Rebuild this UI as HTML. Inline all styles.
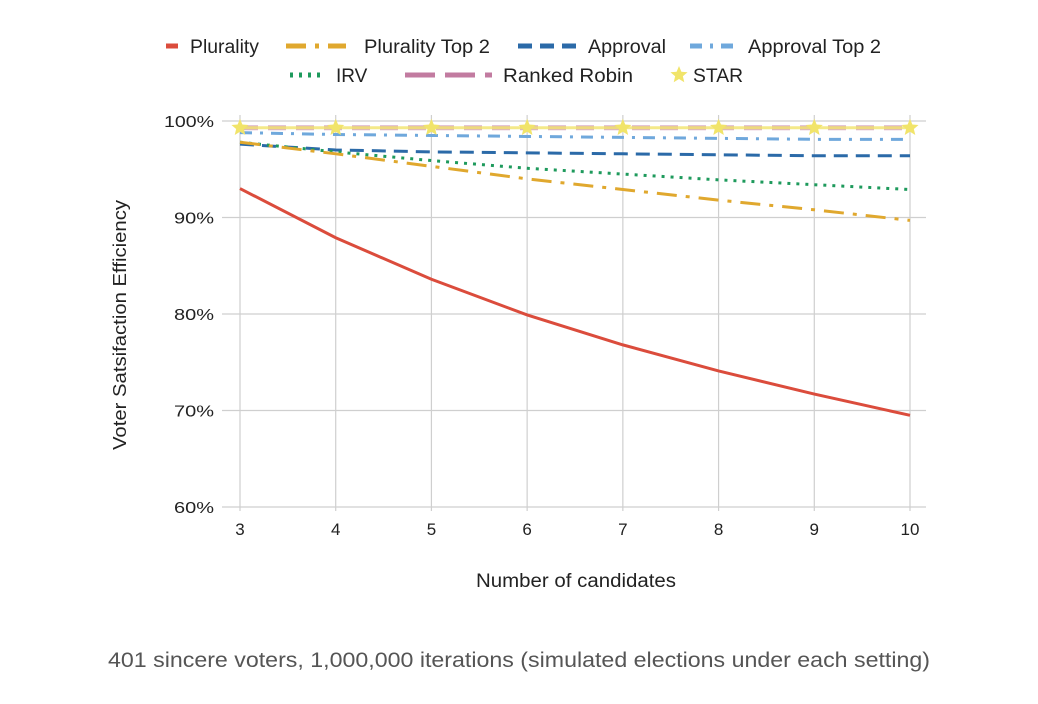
<!DOCTYPE html>
<html><head><meta charset="utf-8"><style>
body{margin:0;background:#fff;width:1038px;height:704px;overflow:hidden;font-family:"Liberation Sans",sans-serif}
svg{position:absolute;left:0;top:0}
</style></head><body>
<svg id="c" width="1038" height="704"></svg>
<script>
const categories=[3,4,5,6,7,8,9,10];
const yTicks=[60,70,80,90,100];
const plurality=[93.0,87.9,83.6,79.9,76.8,74.1,71.7,69.5];
const pluralityTop2=[97.8,96.6,95.3,94.0,92.9,91.8,90.8,89.7];
const approval=[97.6,97.0,96.8,96.7,96.6,96.5,96.4,96.4];
const approvalTop2=[98.8,98.6,98.5,98.4,98.3,98.2,98.1,98.1];
const irv=[97.8,96.8,95.9,95.1,94.5,93.9,93.4,92.9];
const rankedRobin=[99.3,99.3,99.3,99.3,99.3,99.3,99.3,99.3];
const star=[99.3,99.3,99.3,99.3,99.3,99.3,99.3,99.3];
const NS='http://www.w3.org/2000/svg';
const svg=document.getElementById('c');
const X=v=>240+(v-3)*(670/7);
const Y=v=>507-(v-60)*(386/40);
function el(t,a,txt){const e=document.createElementNS(NS,t);for(const k in a)e.setAttribute(k,a[k]);if(txt!==undefined)e.textContent=txt;svg.appendChild(e);return e;}
yTicks.forEach(t=>{const g=el('line',{x1:222,x2:926,y1:Y(t),y2:Y(t),stroke:'#cfcfcf','stroke-width':1.2});


const l=el('text',{x:214,y:Y(t)+6,'text-anchor':'end','font-size':16,fill:'#222',textLength:t==100?50:40,lengthAdjust:'spacingAndGlyphs'},t+'%');

});
categories.forEach(c=>{const g=el('line',{x1:X(c),x2:X(c),y1:Y(100)-6,y2:Y(60)+4,stroke:'#cfcfcf','stroke-width':1.2});


const l=el('text',{x:X(c),y:535,'text-anchor':'middle','font-size':17,fill:'#222'},c);

});
function series(d,color,dash,name,w,op){const p=el('polyline',{points:d.map((v,i)=>X(categories[i])+','+Y(v)).join(' '),fill:'none',stroke:color,'stroke-width':w||3,'stroke-dasharray':dash||'',opacity:op||1});

}
series(rankedRobin,'#c27ba0','18 10','line-ranked-robin',5,0.6);
series(star,'#f1e46a','','line-star',3,0.8);
series(approvalTop2,'#6fa8dc','12 8 3 8','line-approval-top-2');
series(approval,'#2b6aa8','14 8','line-approval');
series(irv,'#1e9a5c','3 6','line-irv');
series(pluralityTop2,'#e0a82e','20 9 4 9','line-plurality-top-2');
series(plurality,'#db4c3c','','line-plurality');
function starPath(cx,cy,r){let s='';for(let i=0;i<10;i++){const a=-Math.PI/2+i*Math.PI/5,rr=i%2?r*0.45:r;s+=(i?'L':'M')+(cx+rr*Math.cos(a))+','+(cy+rr*Math.sin(a));}return s+'Z';}
star.forEach((v,i)=>{const s=el('path',{d:starPath(X(categories[i]),Y(v),9),fill:'#f1e46a'});

});
const leg=[['Plurality','#db4c3c','',166,178,190,46,69],['Plurality Top 2','#e0a82e','20 9 4 9',286,346,364,46,126],['Approval','#2b6aa8','14 8',518,576,588,46,78],['Approval Top 2','#6fa8dc','12 8 3 8',690,736,748,46,133],['IRV','#1e9a5c','3 6',290,326,336,75,0],['Ranked Robin','#c27ba0','30 10',405,492,503,75,130]];
leg.forEach(l=>{
const ln=el('line',{x1:l[3],x2:l[4],y1:l[6],y2:l[6],stroke:l[1],'stroke-width':5,'stroke-dasharray':l[2]});


const attrs={x:l[5],y:l[6]+7,'font-size':19,fill:'#222'};
if(l[7]){attrs.textLength=l[7];attrs.lengthAdjust='spacingAndGlyphs';}
const t=el('text',attrs,l[0]);

});
const ls=el('path',{d:starPath(679,75,9),fill:'#f1e46a'});


const lt=el('text',{x:693,y:82,'font-size':19,fill:'#222',textLength:50,lengthAdjust:'spacingAndGlyphs'},'STAR');


const yt=el('text',{x:0,y:0,transform:'translate(126,325) rotate(-90)','text-anchor':'middle','font-size':18,fill:'#222',textLength:250,lengthAdjust:'spacingAndGlyphs'},'Voter Satsifaction Efficiency');


const xt=el('text',{x:576,y:587,'text-anchor':'middle','font-size':19,fill:'#222',textLength:200,lengthAdjust:'spacingAndGlyphs'},'Number of candidates');


const cap=el('text',{x:519,y:667,'text-anchor':'middle','font-size':21,fill:'#555',textLength:822,lengthAdjust:'spacingAndGlyphs'},'401 sincere voters, 1,000,000 iterations (simulated elections under each setting)');


</script>
</body></html>
